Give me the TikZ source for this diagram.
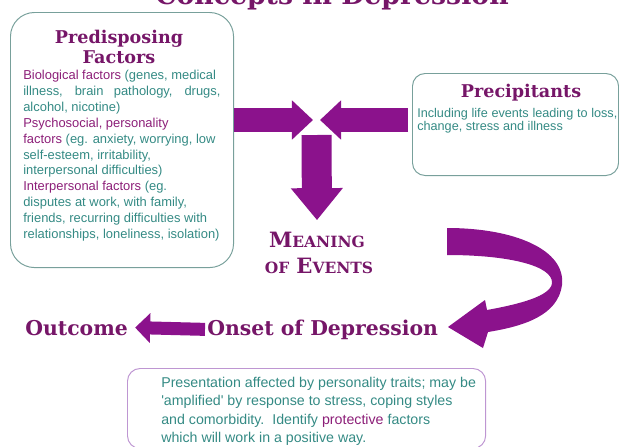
\documentclass[tikz,border=0pt]{standalone}
\usepackage{fontspec}
\setmainfont{Liberation Sans}
\newfontfamily\headfont{DejaVu Serif}
\usetikzlibrary{arrows.meta}

\definecolor{arrowpurple}{RGB}{139,18,140}
\definecolor{headpurple}{RGB}{118,22,104}
\definecolor{inkpurple}{RGB}{140,30,120}
\definecolor{tealtext}{RGB}{52,138,132}
\definecolor{boxteal}{RGB}{120,160,155}
\definecolor{boxlilac}{RGB}{190,150,210}

\newcommand{\capbig}[1]{{\fontsize{15}{15}\selectfont #1}}
\newcommand{\capsmall}[1]{{\fontsize{11}{11}\selectfont #1}}

\begin{document}
\begin{tikzpicture}[x=0.025cm, y=-0.025cm,
        panel/.style={draw=#1, line width=0.7pt, rounded corners=9pt,
                      anchor=north west},
        heading/.style={font=\headfont\bfseries\fontsize{12.5}{14.2}\selectfont,
                        text=headpurple, inner sep=0pt, anchor=base},
        body/.style={font=\fontsize{9.2}{11.3}\selectfont, text=tealtext,
                     align=left, inner sep=0pt, anchor=north west},
        bigword/.style={font=\headfont\bfseries\fontsize{14.5}{14.5}\selectfont,
                        text=headpurple, inner sep=0pt},
    ]
    \useasboundingbox (0,0) rectangle (619,447);

    % title, cut by the top edge
    \node[font=\headfont\bfseries\fontsize{19}{19}\selectfont, text=headpurple,
          anchor=base, inner sep=0pt] (title) at (332,5) {Concepts in Depression};

    % predisposing factors
    \node[panel=boxteal, rounded corners=0.6cm, minimum width=5.575cm,
          minimum height=6.375cm] (predisp) at (10,12) {};
    \node[heading] (predisphead) at (119,43) {Predisposing};
    \node[heading] (factorshead) at (119,63) {Factors};
    \node[body] (predispbody) at (23,70)
        {\textcolor{inkpurple}{Biological factors} (genes, medical\\
         \makebox[4.93cm][s]{illness, brain pathology, drugs,}\\
         alcohol, nicotine)\\
         \textcolor{inkpurple}{Psychosocial, personality}\\
         \textcolor{inkpurple}{factors} (eg. anxiety, worrying, low\\
         self-esteem, irritability,\\
         interpersonal difficulties)\\
         \textcolor{inkpurple}{Interpersonal factors} (eg.\\
         disputes at work, with family,\\
         friends, recurring difficulties with\\
         relationships, loneliness, isolation)};

    % precipitants
    \node[panel=boxteal, minimum width=5.15cm, minimum height=2.55cm]
        (precip) at (412,73) {};
    \node[heading] (preciphead) at (521,97) {Precipitants};
    \node[body, font=\fontsize{9}{9.25}\selectfont] (precipbody) at (417,108)
        {\makebox[5cm][s]{Including life events leading to loss,}\\
         change, stress and illness};

    % meaning of events
    \coordinate (meet) at (316.5,120);
    \node[bigword, anchor=base] (meaning) at (317,247)
        {\capbig{M}\capsmall{EANING}};
    \node[bigword, anchor=base] (events) at (319,273)
        {\capsmall{OF} \capbig{E}\capsmall{VENTS}};

    \draw[arrowpurple, line width=0.6cm,
          -{Triangle[length=0.525cm, width=0.95cm]}]
        (predisp.east |- meet) -- ([xshift=-0.0875cm]meet);
    \draw[arrowpurple, line width=0.6cm,
          -{Triangle[length=0.525cm, width=0.95cm]}]
        ([xshift=-0.1cm]precip.west |- meet) -- ([xshift=0.0875cm]meet);
    \draw[arrowpurple, line width=0.75cm,
          -{Triangle[length=0.8cm, width=1.25cm]}]
        ([yshift=-0.375cm]meet) -- ([yshift=0.28cm]meaning.north);

    % onset and outcome
    \node[bigword, anchor=base west] (onset) at (207,335) {Onset of Depression};
    \node[bigword, anchor=base west] (outcome) at (25,335) {Outcome};
    \draw[arrowpurple, line width=0.325cm,
          -{Triangle[length=0.375cm, width=0.725cm]}]
        ([xshift=-0.05cm]onset.west) -- ([xshift=0.175cm]outcome.east);

    % curled arrow down to the onset
    \fill[arrowpurple] (447,228) .. controls (515,228) and (566,250) .. (562,285)
        .. controls (558,315) and (525,326) .. (488,332)
        -- (483,348) -- (448,327) -- (485,300) -- (487,310)
        .. controls (520,304) and (551,296) .. (552,283)
        .. controls (553,266) and (510,255) .. (447,255) -- cycle;

    % presentation
    \node[panel=boxlilac, minimum width=8.95cm, minimum height=2cm]
        (present) at (127,368) {};
    \node[body, font=\fontsize{10.1}{13}\selectfont] (presenttext) at (161,377)
        {Presentation affected by personality traits; may be\\
         \textquotesingle amplified\textquotesingle{} by response to stress, coping styles\\
         and comorbidity.\ \ Identify \textcolor{inkpurple}{protective} factors\\
         which will work in a positive way.};
\end{tikzpicture}
\end{document}
